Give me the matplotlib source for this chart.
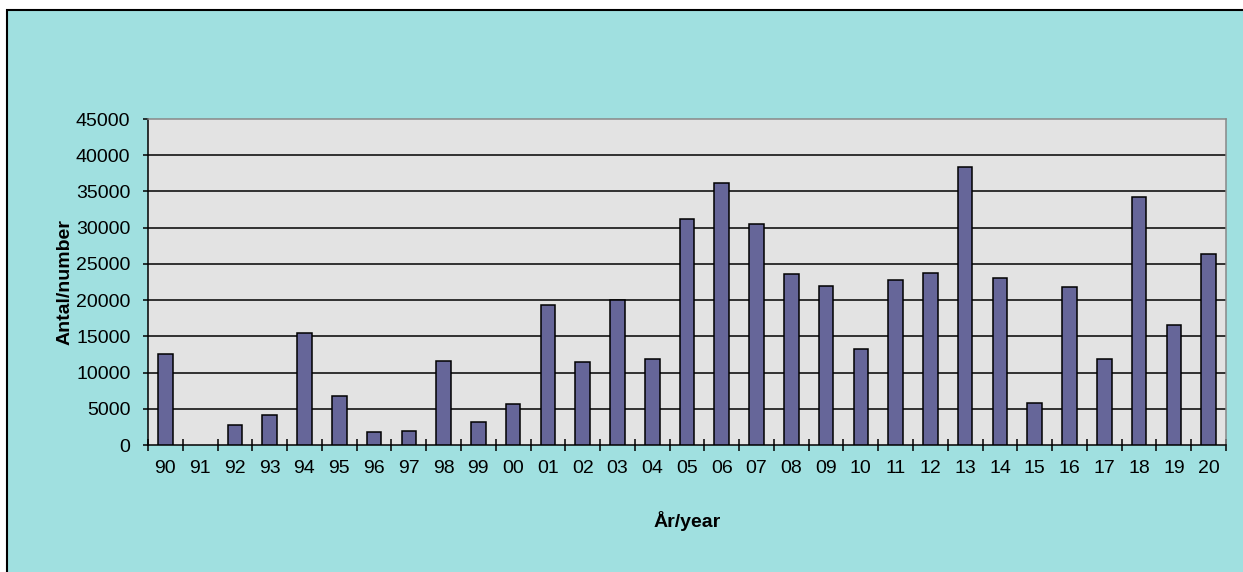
import matplotlib.pyplot as plt
from matplotlib.patches import Rectangle
import numpy as np

years = ["90", "91", "92", "93", "94", "95", "96", "97", "98", "99",
         "00", "01", "02", "03", "04", "05", "06", "07", "08", "09",
         "10", "11", "12", "13", "14", "15", "16", "17", "18", "19", "20"]
counts = [12600, 0, 2700, 4200, 15500, 6700, 1750, 2000, 11600, 3200,
          5700, 19300, 11400, 20000, 11900, 31200, 36100, 30500, 23600, 22000,
          13200, 22800, 23800, 38400, 23000, 5750, 21800, 11900, 34200, 16600, 26300]
y_ticks = [0, 5000, 10000, 15000, 20000, 25000, 30000, 35000, 40000, 45000]

plt.rcParams['font.family'] = ['Liberation Sans', 'DejaVu Sans']

fig = plt.figure(figsize=(12.43, 5.72), dpi=100)
fig.patch.set_facecolor('white')

# cyan chart area with black border on left/top
fig.add_artist(Rectangle((7 / 1243, -0.05), 1.1, 1 - 10 / 572 + 0.05,
                         transform=fig.transFigure, facecolor='#a0e0e0',
                         edgecolor='black', linewidth=1.5, zorder=-10))

ax = fig.add_axes([148 / 1243, 127 / 572, 1078 / 1243, 326 / 572])
ax.set_facecolor('#e3e3e3')

x = np.arange(len(years))
# no outline for empty years
edges = ['black' if c > 0 else 'none' for c in counts]
ax.bar(x, counts, width=0.42, color='#666699', edgecolor=edges,
       linewidth=1.1, zorder=3)

ax.set_xlim(-0.5, len(years) - 0.5)
ax.set_ylim(0, 45000)
ax.set_yticks(y_ticks)
ax.set_yticklabels([str(v) for v in y_ticks])
ax.set_xticks(x)
ax.set_xticklabels(years)
ax.set_xticks(np.arange(-0.5, len(years)), minor=True)

ax.tick_params(axis='x', which='major', length=0, labelsize=14, pad=11)
ax.tick_params(axis='x', which='minor', direction='inout', length=8, width=1.1)
ax.tick_params(axis='y', which='major', direction='out', length=3.6, width=1.1,
               labelsize=14, pad=9)

for yv in y_ticks[1:-1]:
    ax.axhline(yv, color='black', linewidth=1.1, zorder=1)

ax.spines['left'].set_color('black')
ax.spines['left'].set_linewidth(1.1)
ax.spines['bottom'].set_color('black')
ax.spines['bottom'].set_linewidth(1.1)
ax.spines['top'].set_color('#888888')
ax.spines['top'].set_linewidth(1.1)
ax.spines['right'].set_color('#888888')
ax.spines['right'].set_linewidth(1.1)

ax.set_ylabel("Antal/number", fontsize=14, fontweight='bold', labelpad=2)
ax.set_xlabel("År/year", fontsize=14, fontweight='bold', labelpad=24)

fig.savefig("out.png", dpi=100)
